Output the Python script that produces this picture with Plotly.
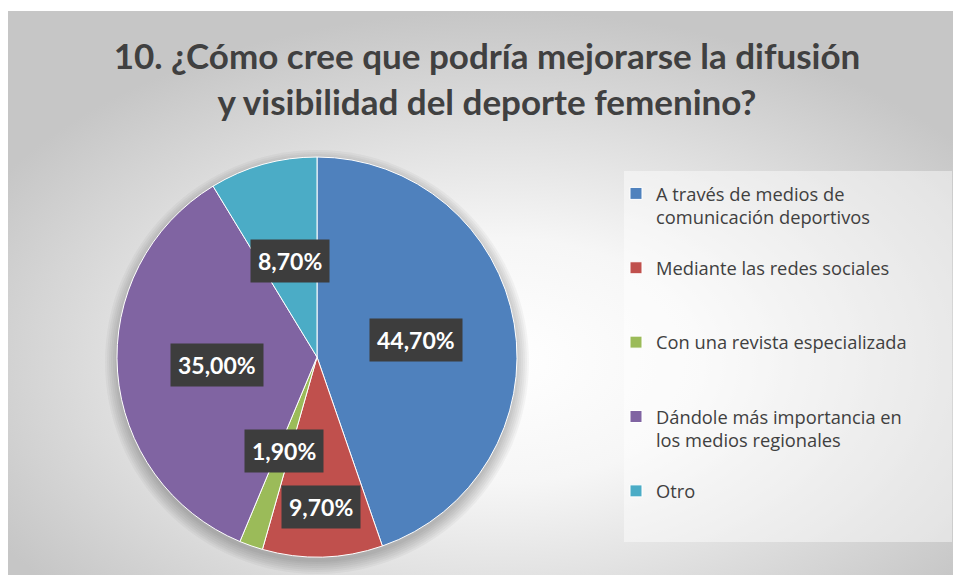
import base64
import math
import plotly.graph_objects as go

# data
labels = [
    "A través de medios de<br>comunicación deportivos",
    "Mediante las redes sociales",
    "Con una revista especializada",
    "Dándole más importancia en<br>los medios regionales",
    "Otro",
]
values = [44.7, 9.7, 1.9, 35.0, 8.7]
pct_text = ["44,70%", "9,70%", "1,90%", "35,00%", "8,70%"]
colors = ["#4F81BD", "#C0504D", "#9BBB59", "#8064A2", "#4BACC6"]

title = "10. ¿Cómo cree que podría mejorarse la difusión<br>y visibilidad del deporte femenino?"

W, H = 953, 575
# pie geometry in pixels
cx_px, cy_px, R = 317, 357, 200
# how far out (fraction of radius) each data label sits
label_r = [0.5, 0.75, 0.5, 0.5, 0.5]

# pad legend entries to three lines so they spread out like the original
legend_names = []
for lab in labels:
    n = lab.count("<br>") + 1
    legend_names.append(lab + "<br>\u00a0" * (3 - n))

# radial gray background as svg
bg_w, bg_h = 945, 564
svg = (
    f'<svg xmlns="http://www.w3.org/2000/svg" width="{bg_w}" height="{bg_h}">'
    '<defs><radialGradient id="g" cx="52%" cy="62%" r="62%">'
    '<stop offset="0" stop-color="#ffffff"/>'
    '<stop offset="0.35" stop-color="#f6f6f6"/>'
    '<stop offset="1" stop-color="#c6c6c6"/>'
    '</radialGradient></defs>'
    f'<rect width="{bg_w}" height="{bg_h}" fill="url(#g)"/></svg>'
)
bg_uri = "data:image/svg+xml;base64," + base64.b64encode(svg.encode()).decode()

fig = go.Figure()
fig.add_trace(go.Pie(
    labels=legend_names,
    values=values,
    sort=False,
    direction="clockwise",
    rotation=0,
    textinfo="none",
    hovertext=labels,
    hoverinfo="text+percent",
    marker=dict(colors=colors, line=dict(color="#ffffff", width=1)),
    domain=dict(x=[(cx_px - R) / W, (cx_px + R) / W],
                y=[1 - (cy_px + R) / H, 1 - (cy_px - R) / H]),
))

# data labels placed at slice mid-angles
annotations = []
total = sum(values)
cum = 0
for v, t, rf in zip(values, pct_text, label_r):
    mid = (cum + v / 2) / total * 2 * math.pi
    cum += v
    px = cx_px + rf * R * math.sin(mid)
    py = cy_px - rf * R * math.cos(mid)
    annotations.append(dict(
        x=px / W, y=1 - py / H, xref="paper", yref="paper",
        xanchor="center", yanchor="middle",
        text=t, showarrow=False,
        font=dict(family="Lato", size=23, color="#ffffff", weight="bold"),
        bgcolor="#3d3d3d", borderpad=7,
    ))

# soft shadow behind the pie
shapes = []
for k in range(7):
    r = R + 12 - 2 * k
    shapes.append(dict(type="circle", xref="paper", yref="paper",
                       x0=(cx_px - r) / W, x1=(cx_px + r) / W,
                       y0=1 - (cy_px + 5 + r) / H, y1=1 - (cy_px + 5 - r) / H,
                       fillcolor="rgba(0,0,0,0.035)", line=dict(width=0), layer="below"))
# legend panel
shapes.append(dict(type="rect", xref="paper", yref="paper",
                   x0=624 / W, x1=952 / W, y0=1 - 542 / H, y1=1 - 171 / H,
                   fillcolor="rgba(255,255,255,0.45)", line=dict(width=0), layer="below"))

fig.update_layout(
    width=W, height=H,
    margin=dict(l=0, r=0, t=0, b=0),
    paper_bgcolor="#ffffff",
    plot_bgcolor="rgba(0,0,0,0)",
    title=dict(text=title, x=487 / W, xanchor="center", y=1 - 69 / H, yanchor="middle",
               font=dict(family="Lato", size=35, color="#404040", weight="bold")),
    images=[dict(source=bg_uri, xref="paper", yref="paper",
                 x=8 / W, y=1 - 11 / H, sizex=bg_w / W, sizey=bg_h / H,
                 xanchor="left", yanchor="top", sizing="stretch", layer="below")],
    shapes=shapes,
    legend=dict(x=616 / W, y=1 - 175 / H, xanchor="left", yanchor="top",
                bgcolor="rgba(0,0,0,0)", valign="top",
                font=dict(family="Open Sans", size=18.3, color="#404040")),
    annotations=annotations,
)

fig.write_html("out.html", config={"displayModeBar": False},
               post_script="document.body.style.margin='0px';")
